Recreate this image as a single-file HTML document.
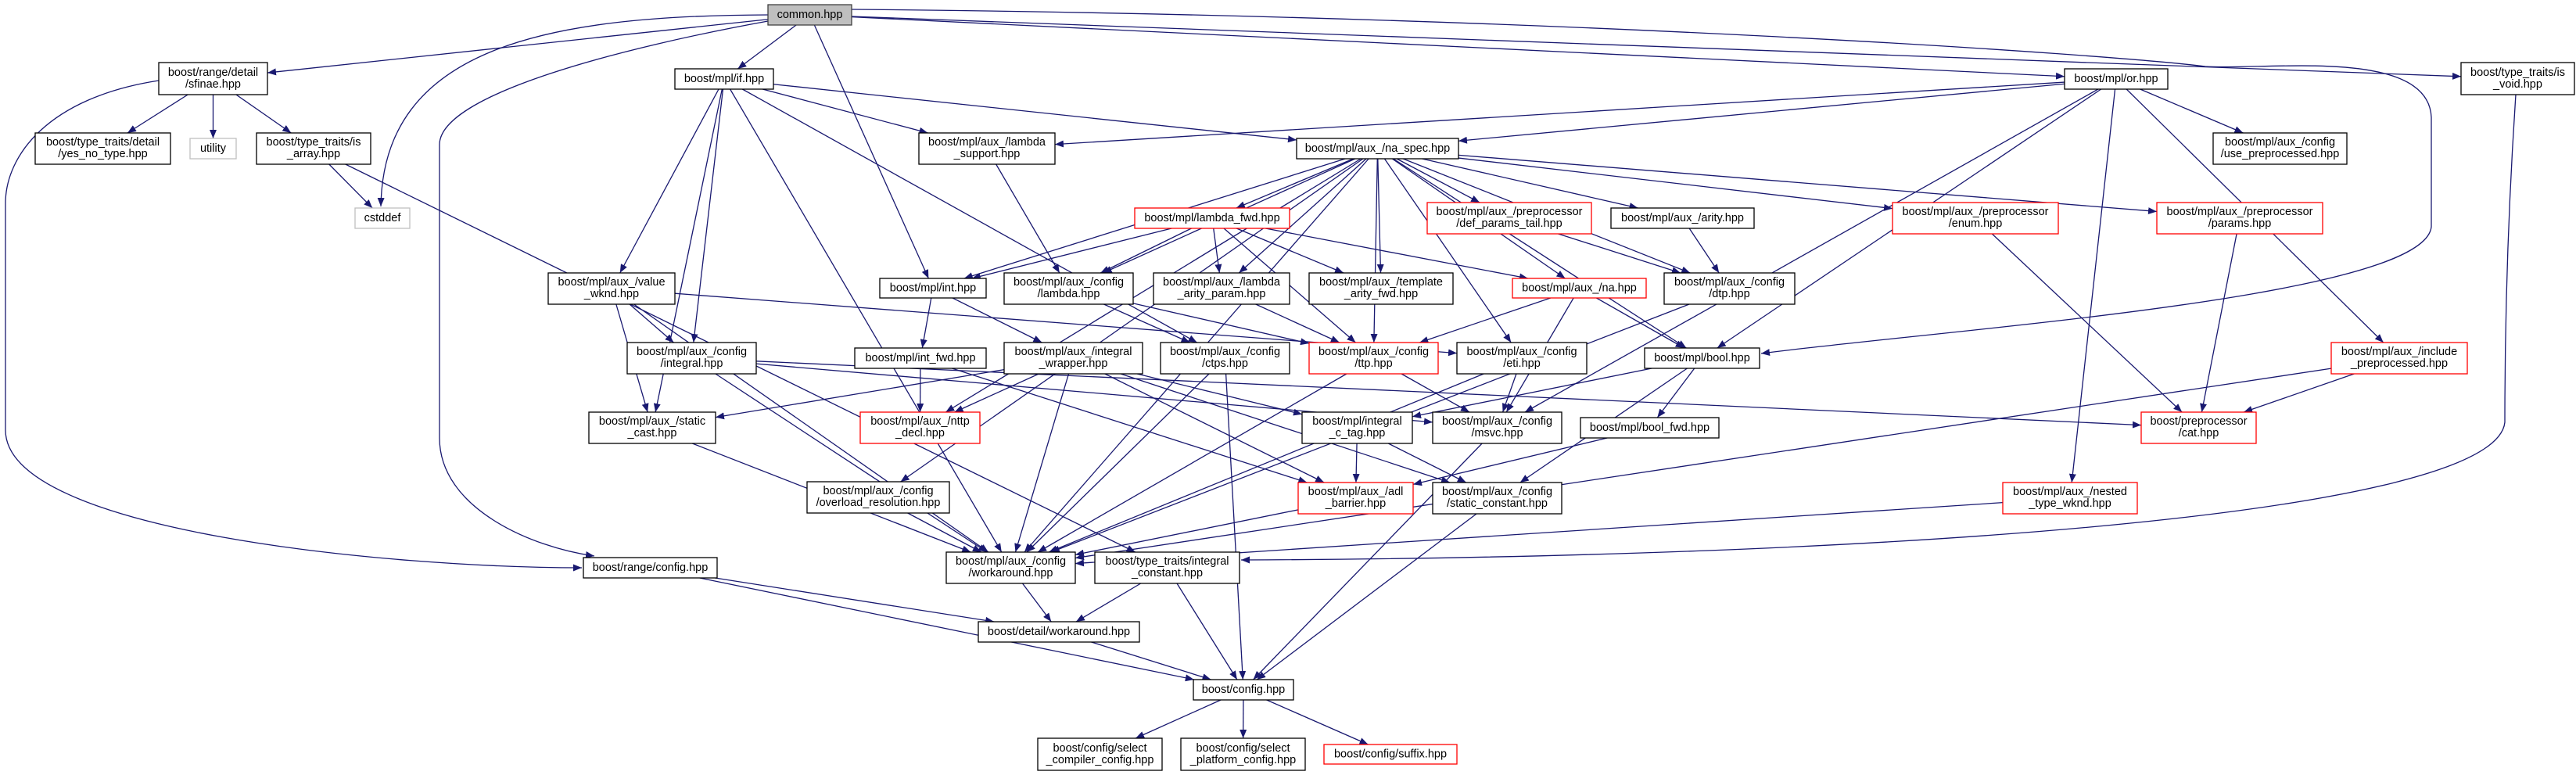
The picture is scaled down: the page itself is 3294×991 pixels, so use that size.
<!DOCTYPE html>
<html><head><meta charset="utf-8"><style>
html,body{margin:0;padding:0;background:#fff;width:3294px;height:991px;overflow:hidden}
svg text{font-family:"Liberation Sans",sans-serif;font-size:14.5px;fill:#000;text-anchor:middle;dominant-baseline:central}
</style></head><body>
<svg id="s" width="3294" height="991" viewBox="0 0 3294 991" xmlns="http://www.w3.org/2000/svg">
<defs><marker id="a" markerWidth="11" markerHeight="9" refX="11" refY="4.5" orient="auto" markerUnits="userSpaceOnUse"><path d="M0,0 L11,4.5 L0,9z" fill="#191970"/></marker></defs>
<g id="edges" fill="none" stroke="#191970" stroke-width="1.3"></g>
<g id="nodes" stroke-width="1.3">
<rect x="982" y="6" width="107" height="26" fill="#bfbfbf" stroke="#404040"/><text x="1035.5" y="19">common.hpp</text>
<rect x="203" y="80" width="139" height="41" fill="#fff" stroke="#000"/><text x="272.5" y="93">boost/range/detail</text><text x="272.5" y="108">/sfinae.hpp</text>
<rect x="45" y="170" width="173" height="40" fill="#fff" stroke="#000"/><text x="131.5" y="182">boost/type_traits/detail</text><text x="131.5" y="197">/yes_no_type.hpp</text>
<rect x="243" y="177" width="59" height="26" fill="#fff" stroke="#bfbfbf"/><text x="272.5" y="190">utility</text>
<rect x="328" y="170" width="146" height="40" fill="#fff" stroke="#000"/><text x="401" y="182">boost/type_traits/is</text><text x="401" y="197">_array.hpp</text>
<rect x="454" y="266" width="70" height="26" fill="#fff" stroke="#bfbfbf"/><text x="489" y="279">cstddef</text>
<rect x="863" y="88" width="126" height="26" fill="#fff" stroke="#000"/><text x="926" y="101">boost/mpl/if.hpp</text>
<rect x="701" y="349" width="162" height="40" fill="#fff" stroke="#000"/><text x="782" y="361">boost/mpl/aux_/value</text><text x="782" y="376">_wknd.hpp</text>
<rect x="802" y="438" width="165" height="40" fill="#fff" stroke="#000"/><text x="884.5" y="450">boost/mpl/aux_/config</text><text x="884.5" y="465">/integral.hpp</text>
<rect x="1175" y="170" width="174" height="40" fill="#fff" stroke="#000"/><text x="1262" y="182">boost/mpl/aux_/lambda</text><text x="1262" y="197">_support.hpp</text>
<rect x="1658" y="177" width="207" height="26" fill="#fff" stroke="#000"/><text x="1761.5" y="190">boost/mpl/aux_/na_spec.hpp</text>
<rect x="1451" y="266" width="198" height="26" fill="#fff" stroke="#f00"/><text x="1550" y="279">boost/mpl/lambda_fwd.hpp</text>
<rect x="1825" y="259" width="210" height="40" fill="#fff" stroke="#f00"/><text x="1930" y="271">boost/mpl/aux_/preprocessor</text><text x="1930" y="286">/def_params_tail.hpp</text>
<rect x="2060" y="266" width="183" height="26" fill="#fff" stroke="#000"/><text x="2151.5" y="279">boost/mpl/aux_/arity.hpp</text>
<rect x="1125" y="356" width="136" height="25" fill="#fff" stroke="#000"/><text x="1193" y="368.5">boost/mpl/int.hpp</text>
<rect x="1284" y="349" width="165" height="40" fill="#fff" stroke="#000"/><text x="1366.5" y="361">boost/mpl/aux_/config</text><text x="1366.5" y="376">/lambda.hpp</text>
<rect x="1475" y="349" width="174" height="40" fill="#fff" stroke="#000"/><text x="1562" y="361">boost/mpl/aux_/lambda</text><text x="1562" y="376">_arity_param.hpp</text>
<rect x="1674" y="349" width="184" height="40" fill="#fff" stroke="#000"/><text x="1766" y="361">boost/mpl/aux_/template</text><text x="1766" y="376">_arity_fwd.hpp</text>
<rect x="1934" y="356" width="171" height="25" fill="#fff" stroke="#f00"/><text x="2019.5" y="368.5">boost/mpl/aux_/na.hpp</text>
<rect x="2128" y="349" width="167" height="40" fill="#fff" stroke="#000"/><text x="2211.5" y="361">boost/mpl/aux_/config</text><text x="2211.5" y="376">/dtp.hpp</text>
<rect x="1093" y="445" width="168" height="26" fill="#fff" stroke="#000"/><text x="1177" y="458">boost/mpl/int_fwd.hpp</text>
<rect x="1284" y="438" width="177" height="40" fill="#fff" stroke="#000"/><text x="1372.5" y="450">boost/mpl/aux_/integral</text><text x="1372.5" y="465">_wrapper.hpp</text>
<rect x="1484" y="438" width="165" height="40" fill="#fff" stroke="#000"/><text x="1566.5" y="450">boost/mpl/aux_/config</text><text x="1566.5" y="465">/ctps.hpp</text>
<rect x="1674" y="438" width="165" height="40" fill="#fff" stroke="#f00"/><text x="1756.5" y="450">boost/mpl/aux_/config</text><text x="1756.5" y="465">/ttp.hpp</text>
<rect x="1863" y="438" width="166" height="40" fill="#fff" stroke="#000"/><text x="1946" y="450">boost/mpl/aux_/config</text><text x="1946" y="465">/eti.hpp</text>
<rect x="2103" y="445" width="147" height="26" fill="#fff" stroke="#000"/><text x="2176.5" y="458">boost/mpl/bool.hpp</text>
<rect x="2640" y="88" width="132" height="26" fill="#fff" stroke="#000"/><text x="2706" y="101">boost/mpl/or.hpp</text>
<rect x="3147" y="80" width="145" height="41" fill="#fff" stroke="#000"/><text x="3219.5" y="93">boost/type_traits/is</text><text x="3219.5" y="108">_void.hpp</text>
<rect x="2830" y="170" width="171" height="40" fill="#fff" stroke="#000"/><text x="2915.5" y="182">boost/mpl/aux_/config</text><text x="2915.5" y="197">/use_preprocessed.hpp</text>
<rect x="2420" y="259" width="212" height="40" fill="#fff" stroke="#f00"/><text x="2526" y="271">boost/mpl/aux_/preprocessor</text><text x="2526" y="286">/enum.hpp</text>
<rect x="2758" y="259" width="212" height="40" fill="#fff" stroke="#f00"/><text x="2864" y="271">boost/mpl/aux_/preprocessor</text><text x="2864" y="286">/params.hpp</text>
<rect x="2981" y="438" width="174" height="40" fill="#fff" stroke="#f00"/><text x="3068" y="450">boost/mpl/aux_/include</text><text x="3068" y="465">_preprocessed.hpp</text>
<rect x="753" y="527" width="162" height="40" fill="#fff" stroke="#000"/><text x="834" y="539">boost/mpl/aux_/static</text><text x="834" y="554">_cast.hpp</text>
<rect x="1032" y="616" width="182" height="40" fill="#fff" stroke="#000"/><text x="1123" y="628">boost/mpl/aux_/config</text><text x="1123" y="643">/overload_resolution.hpp</text>
<rect x="746" y="713" width="171" height="26" fill="#fff" stroke="#000"/><text x="831.5" y="726">boost/range/config.hpp</text>
<rect x="1100" y="527" width="153" height="40" fill="#fff" stroke="#f00"/><text x="1176.5" y="539">boost/mpl/aux_/nttp</text><text x="1176.5" y="554">_decl.hpp</text>
<rect x="1665" y="527" width="141" height="40" fill="#fff" stroke="#000"/><text x="1735.5" y="539">boost/mpl/integral</text><text x="1735.5" y="554">_c_tag.hpp</text>
<rect x="1832" y="527" width="165" height="40" fill="#fff" stroke="#000"/><text x="1914.5" y="539">boost/mpl/aux_/config</text><text x="1914.5" y="554">/msvc.hpp</text>
<rect x="2021" y="534" width="177" height="26" fill="#fff" stroke="#000"/><text x="2109.5" y="547">boost/mpl/bool_fwd.hpp</text>
<rect x="1660" y="617" width="147" height="40" fill="#fff" stroke="#f00"/><text x="1733.5" y="629">boost/mpl/aux_/adl</text><text x="1733.5" y="644">_barrier.hpp</text>
<rect x="1832" y="617" width="165" height="40" fill="#fff" stroke="#000"/><text x="1914.5" y="629">boost/mpl/aux_/config</text><text x="1914.5" y="644">/static_constant.hpp</text>
<rect x="1210" y="706" width="165" height="40" fill="#fff" stroke="#000"/><text x="1292.5" y="718">boost/mpl/aux_/config</text><text x="1292.5" y="733">/workaround.hpp</text>
<rect x="1400" y="706" width="185" height="40" fill="#fff" stroke="#000"/><text x="1492.5" y="718">boost/type_traits/integral</text><text x="1492.5" y="733">_constant.hpp</text>
<rect x="1251" y="795" width="206" height="26" fill="#fff" stroke="#000"/><text x="1354" y="808">boost/detail/workaround.hpp</text>
<rect x="1526" y="869" width="128" height="26" fill="#fff" stroke="#000"/><text x="1590" y="882">boost/config.hpp</text>
<rect x="1327" y="944" width="159" height="41" fill="#fff" stroke="#000"/><text x="1406.5" y="957">boost/config/select</text><text x="1406.5" y="972">_compiler_config.hpp</text>
<rect x="1510" y="944" width="159" height="41" fill="#fff" stroke="#000"/><text x="1589.5" y="957">boost/config/select</text><text x="1589.5" y="972">_platform_config.hpp</text>
<rect x="1693" y="952" width="170" height="25" fill="#fff" stroke="#f00"/><text x="1778" y="964.5">boost/config/suffix.hpp</text>
<rect x="2738" y="527" width="147" height="40" fill="#fff" stroke="#f00"/><text x="2811.5" y="539">boost/preprocessor</text><text x="2811.5" y="554">/cat.hpp</text>
<rect x="2561" y="617" width="172" height="40" fill="#fff" stroke="#f00"/><text x="2647" y="629">boost/mpl/aux_/nested</text><text x="2647" y="644">_type_wknd.hpp</text>
</g>
</svg>
<script>
var N={common:[982,6,1089,32],sfinae:[203,80,342,121],yesno:[45,170,218,210],utility:[243,177,302,203],isarray:[328,170,474,210],cstddef:[454,266,524,292],if_:[863,88,989,114],vwknd:[701,349,863,389],cint:[802,438,967,478],lsup:[1175,170,1349,210],naspec:[1658,177,1865,203],lfwd:[1451,266,1649,292],dpt:[1825,259,2035,299],arity:[2060,266,2243,292],int_:[1125,356,1261,381],clam:[1284,349,1449,389],lap:[1475,349,1649,389],taf:[1674,349,1858,389],na:[1934,356,2105,381],dtp:[2128,349,2295,389],intfwd:[1093,445,1261,471],iw:[1284,438,1461,478],ctps:[1484,438,1649,478],ttp:[1674,438,1839,478],eti:[1863,438,2029,478],bool:[2103,445,2250,471],or_:[2640,88,2772,114],isvoid:[3147,80,3292,121],usepre:[2830,170,3001,210],enum_:[2420,259,2632,299],params:[2758,259,2970,299],incpre:[2981,438,3155,478],scast:[753,527,915,567],ovr:[1032,616,1214,656],rcfg:[746,713,917,739],nttp:[1100,527,1253,567],ictag:[1665,527,1806,567],msvc:[1832,527,1997,567],boolfwd:[2021,534,2198,560],adl:[1660,617,1807,657],sconst:[1832,617,1997,657],wa:[1210,706,1375,746],ic:[1400,706,1585,746],dwa:[1251,795,1457,821],cfg:[1526,869,1654,895],selc:[1327,944,1486,985],selp:[1510,944,1669,985],suffix:[1693,952,1863,977],cat:[2738,527,2885,567],nested:[2561,617,2733,657]};
var E="common sfinae,common if_,common or_,common isvoid,common int_,sfinae yesno,sfinae utility,sfinae isarray,isarray cstddef,isarray ic,if_ lsup,if_ naspec,if_ vwknd,if_ cint,if_ scast,if_ wa,if_ ctps,vwknd scast,vwknd cint,vwknd wa,vwknd eti,cint wa,cint msvc,scast wa,lsup clam,naspec lfwd,naspec dpt,naspec arity,naspec enum_,naspec params,naspec int_,naspec clam,naspec lap,naspec taf,naspec na,naspec ttp,naspec dtp,naspec eti,naspec bool,naspec nttp,naspec ovr,naspec wa,lfwd int_,lfwd clam,lfwd lap,lfwd taf,lfwd na,lfwd ttp,dpt dtp,arity dtp,int_ intfwd,int_ iw,clam ctps,clam ttp,lap ttp,na ttp,na bool,na msvc,intfwd nttp,intfwd adl,iw nttp,iw scast,iw ictag,iw sconst,iw wa,iw adl,ctps wa,ctps cfg,ttp msvc,ttp wa,eti wa,eti msvc,bool boolfwd,bool ictag,bool sconst,dtp wa,ictag adl,ictag sconst,msvc cfg,boolfwd adl,adl wa,sconst cfg,ovr wa,or_ naspec,or_ lsup,or_ usepre,or_ bool,or_ incpre,or_ nested,or_ msvc,enum_ cat,params cat,incpre cat,incpre wa,nested wa,wa dwa,ic dwa,ic cfg,rcfg dwa,rcfg cfg,dwa cfg,cfg selc,cfg selp,cfg suffix,cint cat";
var g=document.getElementById('edges'),ns='http://www.w3.org/2000/svg';
function c(b){return[(b[0]+b[2])/2,(b[1]+b[3])/2]}
function clip(b,p){var o=c(b),dx=p[0]-o[0],dy=p[1]-o[1],hw=(b[2]-b[0])/2,hh=(b[3]-b[1])/2;var t=Math.min(dx?hw/Math.abs(dx):1e9,dy?hh/Math.abs(dy):1e9);return[o[0]+dx*t,o[1]+dy*t]}
function add(d){var p=document.createElementNS(ns,'path');p.setAttribute('d',d);p.setAttribute('marker-end','url(#a)');g.appendChild(p)}
E.split(',').forEach(function(e){var s=e.split(' '),A=N[s[0]],B=N[s[1]],a=clip(A,c(B)),b=clip(B,c(A));add('M'+a[0]+','+a[1]+'L'+b[0]+','+b[1])});
add('M203,103 C60,125 7,200 7,260 L7,550 C7,680 500,726 744,726');
add('M982,19 C700,20 490,60 487,264');
add('M982,27 C800,60 562,120 562,185 L562,560 C562,650 680,700 760,711');
add('M1089,12 C2000,20 2700,70 2820,85 C2900,90 3105,60 3109,150 L3109,290 C3100,380 2500,420 2252,452');
add('M3217,121 C3205,300 3203,450 3203,540 C3190,660 2400,713 1587,716');
</script>
</body></html>
